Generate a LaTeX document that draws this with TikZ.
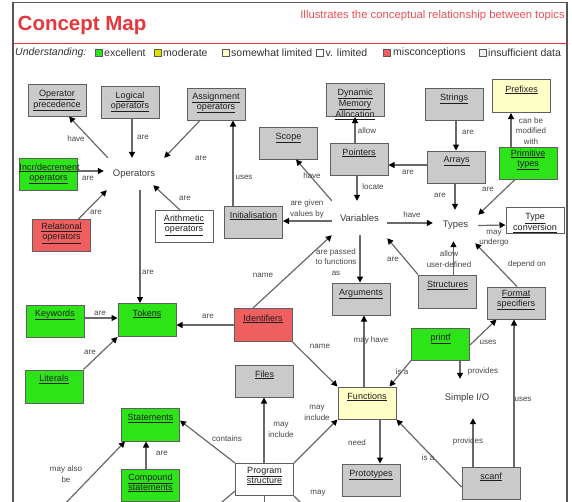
\documentclass[tikz,border=0pt]{standalone}
\usepackage{fontspec}
\setmainfont{Liberation Sans}
\usetikzlibrary{arrows.meta}

\definecolor{cmred}{RGB}{230,55,60}
\definecolor{cmsub}{RGB}{236,80,88}
\definecolor{framegray}{RGB}{85,85,85}
\definecolor{boxline}{RGB}{95,95,95}
\definecolor{boxgray}{RGB}{202,202,202}
\definecolor{boxgreen}{RGB}{45,228,25}
\definecolor{boxred}{RGB}{240,95,95}
\definecolor{boxyellow}{RGB}{255,255,200}
\definecolor{legyellow}{RGB}{225,225,0}
\definecolor{boxtext}{RGB}{30,30,30}
\definecolor{conctext}{RGB}{60,60,60}
\definecolor{lbltext}{RGB}{70,70,70}
\definecolor{edgegray}{RGB}{105,105,105}
\definecolor{legtext}{RGB}{50,50,50}

% box caption: lines hang from the top of the box, each one underlined
\newcommand\cmlabel[2][-11pt]{\vbox to 0pt{\hsize=58pt\centering\vskip#1\strut#2\par\vss}}

\begin{document}
\begin{tikzpicture}[x=1pt,y=-1pt,
  cbox/.style={draw=boxline, line width=1pt, inner sep=0pt, minimum width=58pt,
    minimum height=32pt, font=\fontsize{9}{10}\selectfont, text=boxtext},
  greybox/.style={cbox, fill=boxgray},
  goodbox/.style={cbox, fill=boxgreen},
  badbox/.style={cbox, fill=boxred},
  fairbox/.style={cbox, fill=boxyellow},
  plainbox/.style={cbox, fill=white},
  concept/.style={inner sep=0pt, font=\fontsize{9.5}{11}\selectfont, text=conctext},
  arr/.style={draw=edgegray, line width=1.2pt, -{Triangle[length=6pt,width=6pt,color=black]}},
  link/.style={draw=edgegray, line width=1.2pt},
  lbl/.style={font=\fontsize{8}{10.5}\selectfont, text=lbltext, inner sep=0pt, align=center},
  lgsq/.style={draw=gray!70!black, line width=0.6pt, minimum size=7pt, inner sep=0pt},
  lgtxt/.style={font=\fontsize{10.5}{13}\selectfont, text=legtext, inner sep=0pt, anchor=west},
]
\useasboundingbox (0,0) rectangle (572,501);
\clip (0,0) rectangle (572,501);
\fill[white] (0,0) rectangle (572,501);

% frame and header rule
\draw[framegray, line width=1.5pt] (13,510) -- (13,2.5) -- (567,2.5) -- (567,510);
\draw[cmred, line width=0.8pt] (13,43) -- (567,43);

% header
\node[anchor=base west, inner sep=0pt, font=\bfseries\fontsize{20.5}{24}\selectfont, text=cmred] (title) at (17.5,30) {Concept Map};
\node[anchor=base east, inner sep=0pt, font=\fontsize{11.3}{13}\selectfont, text=cmsub] (subtitle) at (565,18.5) {Illustrates the conceptual relationship between topics};

% legend
\node[lgtxt, font=\itshape\fontsize{10.5}{13}\selectfont] (lgcap) at (15,53) {Understanding:};
\node[lgsq, fill=boxgreen] (sqexc) at (98.5,53) {};
\node[lgtxt] (lgexc) at (104,53) {excellent};
\node[lgsq, fill=legyellow] (sqmod) at (157.5,53) {};
\node[lgtxt] (lgmod) at (163,53) {moderate};
\node[lgsq, fill=boxyellow] (sqsom) at (225.5,53) {};
\node[lgtxt] (lgsom) at (231,53) {somewhat limited};
\node[lgsq, fill=white] (sqvlim) at (320,53) {};
\node[lgtxt] (lgvlim) at (325.5,53) {v. limited};
\node[lgsq, fill=boxred] (sqmis) at (387,53) {};
\node[lgtxt] (lgmis) at (393,53) {misconceptions};
\node[lgsq, fill=gray!12] (sqins) at (482.5,53) {};
\node[lgtxt] (lgins) at (488,53) {insufficient data};

% concept boxes
\node[greybox] (opprec) at (57,100) {\cmlabel{\underline{Operator}\\\underline{precedence}}};
\node[greybox] (logical) at (130,102) {\cmlabel{\underline{Logical}\\\underline{operators}}};
\node[greybox] (assign) at (216,104) {\cmlabel[-12pt]{\underline{Assignment}\\\underline{operators}}};
\node[goodbox] (incdec) at (48.5,174) {\cmlabel{\underline{Incr/decrement}\\\underline{operators}}};
\node[badbox] (relational) at (61.5,235.5) {\cmlabel[-13pt]{\underline{Relational}\\\underline{operators}}};
\node[plainbox] (arith) at (184,226.5) {\cmlabel[-12pt]{\underline{Arithmetic}\\\underline{operators}}};
\node[greybox] (scope) at (288.5,143) {\cmlabel{\underline{Scope}}};
\node[greybox, minimum height=33pt] (dma) at (355,100) {\cmlabel[-12pt]{\underline{Dynamic}\\\underline{Memory}\\\underline{Allocation}}};
\node[greybox] (pointers) at (359,159) {\cmlabel{\underline{Pointers}}};
\node[greybox] (init) at (253.5,222) {\cmlabel{\underline{Initialisation}}};
\node[greybox] (strings) at (454,104) {\cmlabel{\underline{Strings}}};
\node[fairbox, minimum height=33pt] (prefixes) at (521.5,96) {\cmlabel{\underline{Prefixes}}};
\node[greybox] (arrays) at (456.5,167) {\cmlabel[-12pt]{\underline{Arrays}}};
\node[goodbox] (primtypes) at (528,163) {\cmlabel[-14pt]{\underline{Primitive}\\\underline{types}}};
\node[plainbox, minimum height=26pt] (typeconv) at (535,220) {\cmlabel[-7.5pt]{\underline{Type}\\\underline{conversion}}};
\node[goodbox] (keywords) at (55,321) {\cmlabel[-12pt]{\underline{Keywords}}};
\node[goodbox, minimum height=33pt] (tokens) at (147,320) {\cmlabel{\underline{Tokens}}};
\node[goodbox, minimum height=33pt] (literals) at (54,386.5) {\cmlabel[-12pt]{\underline{Literals}}};
\node[badbox, minimum height=33pt] (identifiers) at (263,325) {\cmlabel{\underline{Identifiers}}};
\node[greybox] (arguments) at (361,299) {\cmlabel{\underline{Arguments}}};
\node[greybox] (files) at (264.5,381) {\cmlabel{\underline{Files}}};
\node[greybox, minimum height=33pt] (structures) at (447.5,291.5) {\cmlabel{\underline{Structures}}};
\node[greybox] (formatspec) at (516,303) {\cmlabel[-14pt]{\underline{Format}\\\underline{specifiers}}};
\node[goodbox] (printf) at (440.5,344) {\cmlabel{\underline{printf}}};
\node[goodbox, minimum height=33pt] (statements) at (150.5,424.5) {\cmlabel{\underline{Statements}}};
\node[goodbox] (compound) at (150.5,485.5) {\cmlabel[-12.5pt]{\underline{Compound}\\\underline{statements}}};
\node[fairbox] (functions) at (367,403) {\cmlabel{\underline{Functions}}};
\node[plainbox] (progstruct) at (264.5,479.5) {\cmlabel[-13.5pt]{\underline{Program}\\\underline{structure}}};
\node[greybox] (prototypes) at (371,480) {\cmlabel{\underline{Prototypes}}};
\node[greybox] (scanf) at (491,483) {\cmlabel{\underline{scanf}}};

% plain concepts
\node[concept, minimum width=60pt, minimum height=32pt] (ops) at (134,174) {Operators};
\node[concept, minimum width=55pt, minimum height=34pt] (vars) at (359.5,218) {Variables};
\node[concept, minimum width=45pt, minimum height=31pt] (types) at (455.5,225.5) {Types};
\node[concept, minimum width=44pt, minimum height=39pt] (simpleio) at (467,398.5) {Simple I/O};

% ends of links running off the bottom edge
\coordinate (offA) at (61,508);
\coordinate (offB) at (215,508);
\coordinate (offC) at (264.5,508);
\coordinate (offD) at (306,508);

% operators
\draw[arr] ([xshift=4pt]ops.north west) -- ([xshift=12pt]opprec.south) node[lbl] at (76,139) {have};
\draw[arr] ([xshift=2pt]logical.south) -- ([xshift=-2pt]ops.north) node[lbl] at (143,137) {are};
\draw[arr] ([xshift=-16pt]assign.south) -- (ops.north east) node[lbl] at (201,158) {are};
\draw[arr] ([yshift=3pt]incdec.east) -- ([yshift=3pt]ops.west) node[lbl] at (88,178) {are};
\draw[arr] ([xshift=17pt]relational.north) -- ([xshift=3pt]ops.south west) node[lbl] at (96,212) {are};
\draw[arr] ([xshift=-4pt]arith.north) -- ([xshift=-11pt,yshift=5pt]ops.south east) node[lbl] at (185,198) {are};
\draw[arr] ([xshift=6pt]ops.south) -- ([xshift=-7pt]tokens.north) node[lbl] at (148,272) {are};

% tokens
\draw[arr] ([yshift=3pt]keywords.east) -- ([yshift=2pt]tokens.west) node[lbl] at (100,313) {are};
\draw[arr] (literals.north east) -- (tokens.south west) node[lbl] at (90,352) {are};
\draw[arr] (identifiers.west) -- ([yshift=-5pt]tokens.east) node[lbl] at (208,316) {are};
\draw[arr] ([xshift=-10pt]identifiers.north) -- (vars.south west) node[lbl] at (263,275) {name};
\draw[arr] (identifiers.south east) -- (functions.north west) node[lbl] at (320,346) {name};

% variables
\draw[arr] ([xshift=-20.5pt]init.north) -- ([xshift=17pt]assign.south) node[lbl] at (244,177) {uses};
\draw[arr] ([yshift=-3pt]vars.west) -- ([yshift=1pt]init.east) node[lbl] at (307,209) {are given\\values by};
\draw[arr] (vars.north west) -- ([xshift=7.5pt]scope.south) node[lbl] at (312,176) {have};
\draw[arr] ([xshift=-4pt]pointers.north) -- (dma.south) node[lbl] at (367,131) {allow};
\draw[arr] ([xshift=-2pt]pointers.south) -- ([xshift=-2.5pt]vars.north) node[lbl] at (373,187) {locate};
\draw[arr] ([yshift=2pt]arrays.west) -- ([yshift=-6pt]pointers.east) node[lbl] at (408,172) {are};
\draw[arr] ([xshift=2pt]strings.south) -- ([xshift=-0.5pt]arrays.north) node[lbl] at (468,132) {are};
\draw[arr] ([xshift=-1.5pt]arrays.south) -- ([xshift=-0.5pt]types.north) node[lbl] at (440,195) {are};
\draw[arr] ([xshift=-13pt]primtypes.south) -- ([yshift=-5pt]types.north east) node[lbl] at (488,189) {are};
\draw[arr] ([xshift=-17pt]primtypes.north) -- ([xshift=-10.5pt]prefixes.south) node[lbl] at (531,131) {can be\\modified\\with};
\draw[arr] ([yshift=-5pt]vars.east) -- ([yshift=2.5pt]types.west) node[lbl] at (412,215) {have};
\draw[arr] (types.east) -- ([yshift=-5pt]typeconv.west) node[lbl] at (494,238) {may\\undergo};
\draw[arr] ([xshift=0.5pt]vars.south) -- ([xshift=-1pt]arguments.north) node[lbl] at (336,262) {are passed\\to functions\\as};
\draw[arr] (structures.north west) -- ([yshift=-3pt]vars.south east) node[lbl] at (393,259) {are};
\draw[arr] ([xshift=6pt]structures.north) -- ([xshift=-2pt]types.south) node[lbl] at (449,259) {allow\\user-defined};
\draw[arr] ([xshift=1pt]formatspec.north) -- ([xshift=-3pt,yshift=-2pt]types.south east) node[lbl] at (527,264) {depend on};

% input / output
\draw[arr] ([yshift=-1pt]printf.east) -- ([xshift=10pt]formatspec.south west) node[lbl] at (488,342) {uses};
\draw[arr] ([xshift=19.5pt]printf.south) -- ([xshift=-7pt]simpleio.north) node[lbl] at (483,371) {provides};
\draw[arr] (printf.south west) -- ([xshift=-7pt]functions.north east) node[lbl] at (402,372) {is a};
\draw[arr] ([xshift=-18pt]scanf.north) -- ([xshift=6pt]simpleio.south) node[lbl] at (468,441) {provides};
\draw[arr] ([xshift=23pt]scanf.north) -- ([xshift=-2pt]formatspec.south) node[lbl] at (523,399) {uses};
\draw[arr] ([yshift=-4pt]scanf.west) -- (functions.south east) node[lbl] at (428,458) {is a};

% functions and program structure
\draw[arr] ([xshift=-3pt]functions.north) -- ([xshift=3pt]arguments.south) node[lbl] at (371,340) {may have};
\draw[arr] ([xshift=13pt]functions.south) -- ([xshift=9pt]prototypes.north) node[lbl] at (357,443) {need};
\draw[arr] ([xshift=-0.5pt]progstruct.north) -- ([xshift=-0.5pt]files.south) node[lbl] at (281,430) {may\\include};
\draw[arr] (progstruct.north east) -- (functions.south west) node[lbl] at (317,413) {may\\include};
\draw[arr] (progstruct.north west) -- ([yshift=4pt]statements.east) node[lbl] at (227,439) {contains};
\draw[arr] ([xshift=-4.5pt]compound.north) -- ([xshift=-4.5pt]statements.south) node[lbl] at (162,453) {are};
\draw[arr] (offA) -- ([xshift=4pt]statements.south west) node[lbl] at (66,474) {may also\\be};
\draw[link] ([yshift=5pt]progstruct.south west) -- (offB);
\draw[link] (progstruct.south) -- (offC);
\draw[link] (progstruct.south east) -- (offD) node[lbl] at (318,493) {may};
\end{tikzpicture}
\end{document}
